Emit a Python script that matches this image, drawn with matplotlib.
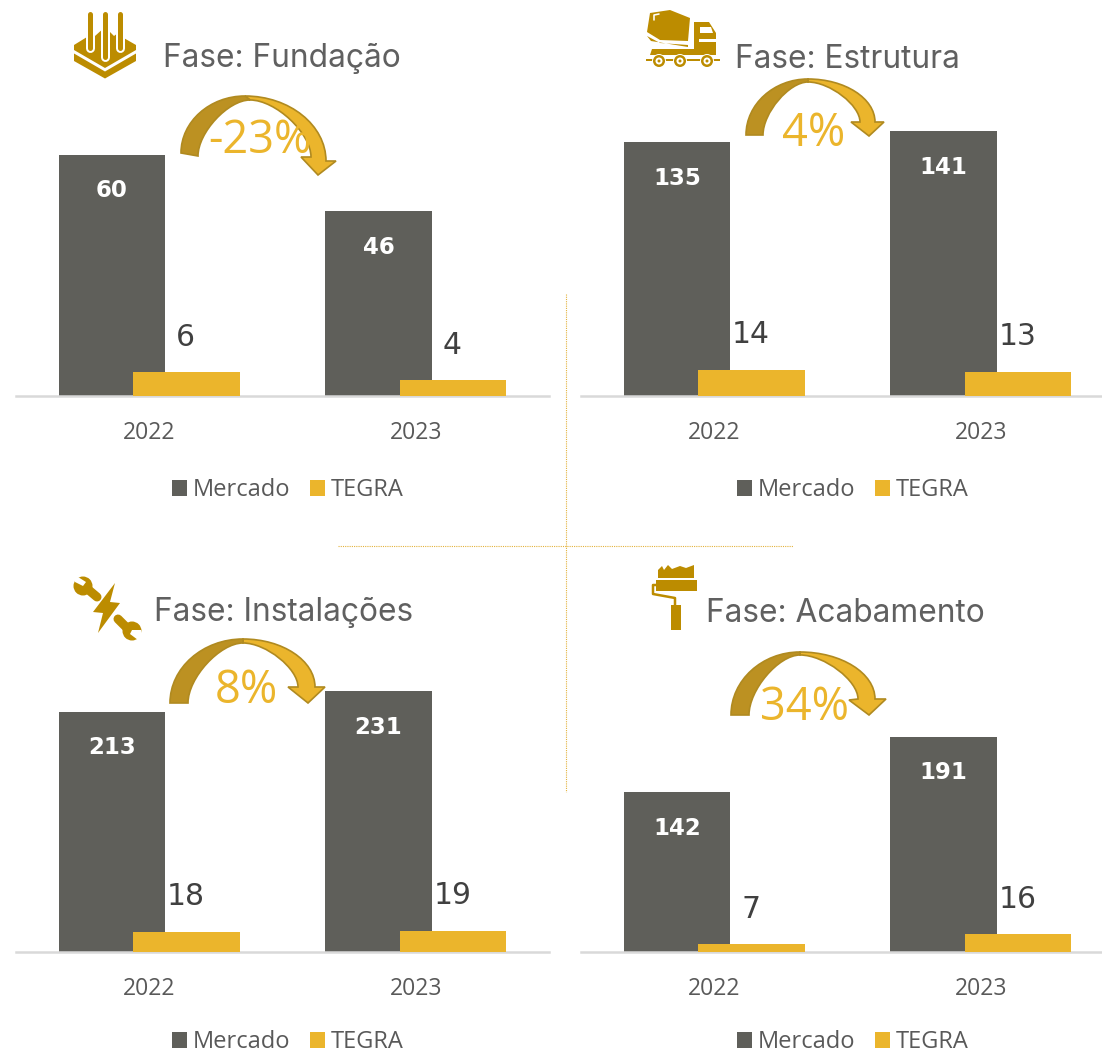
import numpy as np
import matplotlib
matplotlib.use("Agg")
import matplotlib.pyplot as plt
from matplotlib.patches import PathPatch, Polygon, Circle, Rectangle
from matplotlib.path import Path

W, H = 1102, 1055
years = ["2022", "2023"]
series_names = ["Mercado", "TEGRA"]
fundacao_mercado = [60, 46]
fundacao_tegra = [6, 4]
estrutura_mercado = [135, 141]
estrutura_tegra = [14, 13]
instalacoes_mercado = [213, 231]
instalacoes_tegra = [18, 19]
acabamento_mercado = [142, 191]
acabamento_tegra = [7, 16]
titles = ["Fase: Fundação", "Fase: Estrutura", "Fase: Instalações", "Fase: Acabamento"]
changes = ["-23%", "4%", "8%", "34%"]

GRAY = "#5F5F5A"
YEL = "#EBB52C"
GOLD = "#BC8C00"
TXT = "#595959"
DARK = "#404040"

fig = plt.figure(figsize=(W / 100, H / 100), dpi=100, facecolor="white")


def panel(x0, base_y, scale, merc, teg, leg_drop=94):
    width = 533
    top = 125
    ax = fig.add_axes([x0 / W, 1 - base_y / H, width / W, (base_y - top) / H])
    ax.set_xlim(-0.5, 1.5)
    ax.set_ylim(0, (base_y - top) / scale)
    x = np.arange(2)
    bw, off = 0.40, 0.14
    ax.bar(x - off, merc, bw, color=GRAY, zorder=2, label=series_names[0])
    ax.bar(x + off, teg, bw, color=YEL, zorder=3, label=series_names[1])
    for xi, m, t in zip(x, merc, teg):
        ax.annotate(str(m), (xi - off, m), xytext=(0, -26), textcoords="offset points",
                    ha="center", va="center", color="white", fontsize=16.5, family="DejaVu Sans",
                    fontweight="bold", zorder=5)
        ax.annotate(str(t), (xi + off, t), xytext=(-0.5, 25), textcoords="offset points",
                    ha="center", va="center", color=DARK, fontsize=21.5, family="DejaVu Sans", zorder=5)
    for s in ["top", "left", "right"]:
        ax.spines[s].set_visible(False)
    ax.spines["bottom"].set_color("#D9D9D9")
    ax.spines["bottom"].set_linewidth(1.8)
    ax.set_yticks([])
    ax.set_xticks(x)
    ax.set_xticklabels(years, family="Open Sans", fontsize=16.5, color=TXT)
    ax.tick_params(axis="x", length=0, pad=18)
    ax.patch.set_alpha(0)
    ax.legend(ncols=2, loc="center", frameon=False,
              bbox_to_anchor=(0.5 + 5 / 533, -leg_drop / (base_y - top)),
              prop={"family": "Open Sans", "size": 17},
              handlelength=0.66, handleheight=0.66, handletextpad=0.22, columnspacing=0.85,
              labelcolor=TXT, borderpad=0, borderaxespad=0)
    return ax


panel(16, 396, 4.02, fundacao_mercado, fundacao_tegra)
panel(581, 396, 1.88, estrutura_mercado, estrutura_tegra)
panel(16, 952, 1.128, instalacoes_mercado, instalacoes_tegra, leg_drop=90)
panel(581, 952, 1.127, acabamento_mercado, acabamento_tegra, leg_drop=90)

ov = fig.add_axes([0, 0, 1, 1], zorder=10)
ov.set_xlim(0, W)
ov.set_ylim(H, 0)
ov.axis("off")
ov.patch.set_alpha(0)

ov.plot([566, 566], [294, 792], color="#E3B23C", lw=0.8, ls=(0, (1, 1)))
ov.plot([338, 793], [546, 546], color="#E3B23C", lw=0.8, ls=(0, (1, 1)))


def curved_arrow(lo, li, top, itop, hl, hr, tip, so, si):
    k, ki = 0.55, 0.42
    def q(a, b):
        return [(a[0], a[1] - k * (a[1] - b[1])), (b[0] - k * (b[0] - a[0]), b[1]), b]
    def r(a, b):
        return [(a[0] + k * (b[0] - a[0]), a[1]), (b[0], b[1] - k * (b[1] - a[1])), b]
    def rr(b, a):
        return [(b[0], b[1] - ki * (b[1] - a[1])), (a[0] + ki * (b[0] - a[0]), a[1]), a]
    def qr(b, a):
        return [(b[0] - ki * (b[0] - a[0]), b[1]), (a[0], a[1] - ki * (a[1] - b[1])), a]
    v = [top] + r(top, so) + [hr, tip, hl, si] + rr(si, itop) + [top]
    c = [Path.MOVETO] + [Path.CURVE4] * 3 + [Path.LINETO] * 4 + [Path.CURVE4] * 3 + [Path.CLOSEPOLY]
    ov.add_patch(PathPatch(Path(v, c), fc=YEL, ec="#B08A20", lw=1.2, zorder=3))
    v = [lo] + q(lo, top) + [itop] + qr(itop, li) + [lo]
    c = [Path.MOVETO] + [Path.CURVE4] * 3 + [Path.LINETO] + [Path.CURVE4] * 3 + [Path.CLOSEPOLY]
    ov.add_patch(PathPatch(Path(v, c), fc="#BC9122", ec="#B08A20", lw=1.2, zorder=3))


curved_arrow((181, 153), (198, 156), (245, 96), (250, 100), (301, 157), (336, 161), (318, 175), (326, 161), (311, 157))
curved_arrow((746, 135), (763, 135), (808, 79), (808, 82), (851, 122), (884, 122), (869, 136), (875, 122), (860, 122))
curved_arrow((170, 703), (188, 703), (243, 639), (243, 643), (288, 687), (325, 687), (308, 703), (315, 687), (298, 687))
curved_arrow((731, 715), (749, 715), (800, 652), (800, 655), (849, 700), (886, 699), (869, 715), (875, 699), (858, 699))

for s, x, y in zip(changes, [260, 814, 246, 804], [141, 134, 691, 708]):
    ov.text(x, y, s, ha="center", va="center", color=YEL, fontsize=32.5, family="Open Sans", zorder=6)

for s, x, y in zip(titles, [163, 735, 154, 706], [58, 59, 613, 614]):
    ov.text(x, y, s, ha="left", va="center", color="#606060", fontsize=22.8, family="Inter", zorder=6)


def poly(pts, fc=GOLD, z=4):
    ov.add_patch(Polygon(pts, closed=True, fc=fc, ec="none", zorder=z))


def line(pts, lw, color=GOLD, z=4, cap="round"):
    a = np.array(pts)
    ov.plot(a[:, 0], a[:, 1], color=color, lw=lw * 0.72, solid_capstyle=cap, solid_joinstyle="round", zorder=z)


# foundation icon
poly([(74, 45), (87, 37), (87, 30), (95, 36), (105, 27), (114, 36), (122, 30), (122, 37), (136, 45), (136, 50), (105, 68), (74, 50)])
poly([(74, 53.5), (105, 71.5), (136, 53.5), (136, 61), (105, 78.5), (74, 61)])
for x, yb in [(89.5, 48), (104.6, 57), (119.6, 48)]:
    line([(x, 13), (x, yb)], 9, "white", 5)
    line([(x, 14), (x, yb)], 5, GOLD, 6)

# truck icon
poly([(650, 13), (670, 10), (690, 18), (688, 41), (660, 40), (647, 32)])
line([(654, 20), (654, 15), (659, 14)], 1.6, "white", 5)
poly([(647, 36), (660, 43), (688, 45), (688, 47), (651, 41)])
poly([(694, 22), (709, 22), (716, 33), (716, 55), (694, 55)])
poly([(700, 27), (711, 27), (713, 33), (700, 33)], "white", 5)
poly([(699, 39), (716, 39), (716, 42), (699, 42)], "white", 5)
poly([(652, 49), (694, 49), (694, 55), (650, 55)])
line([(646, 60), (720, 60)], 2, GOLD, 3, "butt")
for x in (659, 680, 707):
    ov.add_patch(Circle((x, 61), 7, fc="white", ec="none", zorder=4))
    ov.add_patch(Circle((x, 61), 6, fc=GOLD, ec="none", zorder=5))
    ov.add_patch(Circle((x, 61), 3.5, fc="white", ec="none", zorder=6))
    ov.add_patch(Circle((x, 61), 1.5, fc=GOLD, ec="none", zorder=7))

# wrench / bolt icon
poly([(115, 583), (93, 612), (103, 613), (98, 633), (120, 603), (110, 602)])
line([(84, 586), (97, 597)], 9)
line([(118, 619), (130, 631)], 9)
ov.add_patch(Circle((83, 586), 9.5, fc=GOLD, ec="none", zorder=4))
ov.add_patch(Circle((132, 631), 9.5, fc=GOLD, ec="none", zorder=4))
poly([(78, 577), (86, 582), (83, 586), (75, 582), (73, 574)], "white", 5)
poly([(141, 630), (132, 630), (130, 634), (138, 640), (143, 636)], "white", 5)

# roller icon
poly([(658, 578), (658, 570), (662, 566), (664, 570), (668, 565), (672, 569), (680, 566), (686, 568), (694, 565), (694, 578)])
ov.add_patch(Rectangle((656, 580), 41, 11, fc=GOLD, ec="none", zorder=4))
line([(656, 585), (653, 585), (653, 594), (675, 598), (675, 606)], 2.5)
ov.add_patch(Rectangle((671, 605), 10, 25, fc=GOLD, ec="none", zorder=4))

fig.savefig("out.png", dpi=100)
